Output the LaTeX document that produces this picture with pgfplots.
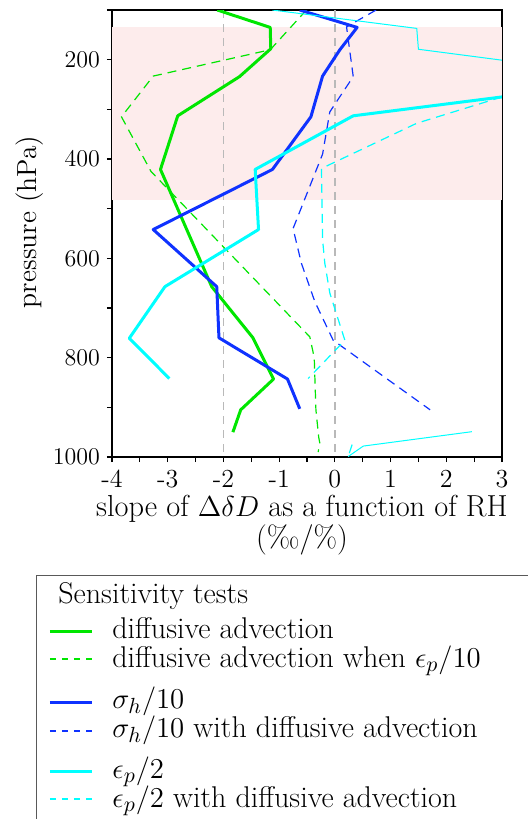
\documentclass[border=0pt]{standalone}
\usepackage{fontspec}
\usepackage{pgfplots}
\pgfplotsset{compat=1.18}

\definecolor{pgreen}{RGB}{0,230,0}
\definecolor{pblue}{RGB}{15,50,255}
\definecolor{pcyan}{RGB}{0,255,255}
\definecolor{band}{RGB}{253,236,236}

\begin{document}
\begin{tikzpicture}
\begin{axis}[
	scale only axis, width=195pt, height=223.5pt,
	xmin=-4, xmax=3, ymin=100, ymax=1000, y dir=reverse,
	xtick={-4,...,3}, xticklabels={-4,-3,-2,-1,0,1,2,3},
	minor x tick num=1,
	ytick={200,400,...,1000}, minor ytick={100,300,...,900},
	yticklabel style={/pgf/number format/1000 sep={}},
	xticklabel style={inner sep=0.5pt, yshift=-3.2pt},
	tick align=outside, xtick pos=bottom, ytick pos=left,
	major tick length=2.5pt, minor tick length=2.5pt,
	tick style={black, line width=0.6pt},
	axis line style={line width=0.9pt},
	ticklabel style={font=\fontsize{13}{14}\selectfont},
	xlabel={slope of $\Delta\delta D$ as a function of RH\\(\textperthousand/\%)},
	xlabel style={align=center, font=\fontsize{15.2}{14}\selectfont, inner sep=0pt,
		at={(axis description cs:0.487,0)}, anchor=north, yshift=-19pt},
	ylabel={pressure (hPa)},
	ylabel style={font=\fontsize{13.8}{15}\selectfont, inner sep=0pt,
		at={(axis description cs:-0.21,0.526)}, anchor=center},
	every axis plot/.append style={line join=round},
]
% shaded upper-troposphere band
\addplot[draw=none, fill=band, forget plot] coordinates {(-4,135) (3,135) (3,482) (-4,482)} -- cycle;
% reference lines
\addplot[gray!55, line width=0.7pt, dash pattern=on 4pt off 3pt, forget plot] coordinates {(-2,100) (-2,1000)};
\addplot[gray!55, line width=0.7pt, dash pattern=on 4pt off 3pt, forget plot] coordinates {(0,100) (0,1000)};

% diffusive advection
\addplot[pgreen, line width=1.5pt] coordinates {
	(-2.11,100) (-1.16,135) (-1.15,178) (-1.71,234) (-2.82,313) (-3.13,421)
	(-2.21,657) (-1.47,760) (-1.10,843) (-1.69,905) (-1.83,950)};
% diffusive advection when eps_p/10
\addplot[pgreen, line width=0.6pt, dash pattern=on 4.5pt off 3pt] coordinates {
	(-0.51,100) (-1.16,180) (-3.26,233) (-3.83,315) (-3.30,425) (-0.45,758)
	(-0.37,800) (-0.34,905) (-0.29,960) (-0.27,972) (-0.30,990)};
% sigma_h/10
\addplot[pblue, line width=1.5pt] coordinates {
	(-0.63,100) (0.40,135) (0.09,180) (-0.22,233) (-0.43,315) (-1.12,421)
	(-3.26,542) (-2.12,657) (-2.08,760) (-0.85,843) (-0.63,903)};
% sigma_h/10 with diffusive advection
\addplot[pblue, line width=0.6pt, dash pattern=on 4.5pt off 3pt] coordinates {
	(0.74,100) (0.21,134) (0.33,234) (-0.09,305) (-0.22,390) (-0.75,540)
	(-0.60,610) (-0.36,687) (-0.03,765) (1.71,905)};
% eps_p/2
\addplot[pcyan, line width=0.5pt] coordinates {
	(-1.12,100) (1.47,137) (1.50,179) (3.0,201)};
\addplot[pcyan, line width=1.5pt] coordinates {
	(3.0,275) (0.33,313) (-1.43,421) (-1.37,542) (-3.05,657) (-3.69,761) (-2.97,842)};
\addplot[pcyan, line width=0.5pt] coordinates {
	(2.46,949) (0.51,978) (0.24,999)};
% eps_p/2 with diffusive advection
\addplot[pcyan, line width=0.6pt, dash pattern=on 4.5pt off 3pt] coordinates {
	(3.0,275) (1.47,328) (-0.24,419) (-0.22,563) (-0.18,610) (-0.09,670)
	(0.18,765) (-0.48,842)};
\addplot[pcyan, line width=0.6pt, dash pattern=on 4.5pt off 3pt] coordinates {
	(0.31,975) (0.24,999)};
\end{axis}

% legend
\draw[black!65, line width=0.5pt] (-37.5pt,-195pt) rectangle (220pt,-59pt);
\begin{scope}[every node/.style={anchor=base west, inner sep=0pt, font=\fontsize{15}{17}\selectfont}]
\node at (-27pt,-73pt) {Sensitivity tests};
\draw[pgreen, line width=1.5pt] (-31pt,-87pt) -- (-10pt,-87pt);
\node at (0pt,-90.5pt) {diffusive advection};
\draw[pgreen, line width=0.6pt, dash pattern=on 3pt off 3pt] (-31pt,-101pt) -- (-10pt,-101pt);
\node at (0pt,-105pt) {diffusive advection when $\epsilon_p/10$};
\draw[pblue, line width=1.5pt] (-31pt,-122.5pt) -- (-10pt,-122.5pt);
\node at (0pt,-125.5pt) {$\sigma_h/10$};
\draw[pblue, line width=0.6pt, dash pattern=on 3pt off 3pt] (-31pt,-137pt) -- (-10pt,-137pt);
\node at (0pt,-140pt) {$\sigma_h/10$ with diffusive advection};
\draw[pcyan, line width=1.5pt] (-31pt,-157pt) -- (-10pt,-157pt);
\node at (0pt,-160.5pt) {$\epsilon_p/2$};
\draw[pcyan, line width=0.6pt, dash pattern=on 3pt off 3pt] (-31pt,-171pt) -- (-10pt,-171pt);
\node at (0pt,-175pt) {$\epsilon_p/2$ with diffusive advection};
\end{scope}

\pgfresetboundingbox
\path[use as bounding box] (-56pt,-181pt) rectangle (207.5pt,228.5pt);
\end{tikzpicture}
\end{document}
